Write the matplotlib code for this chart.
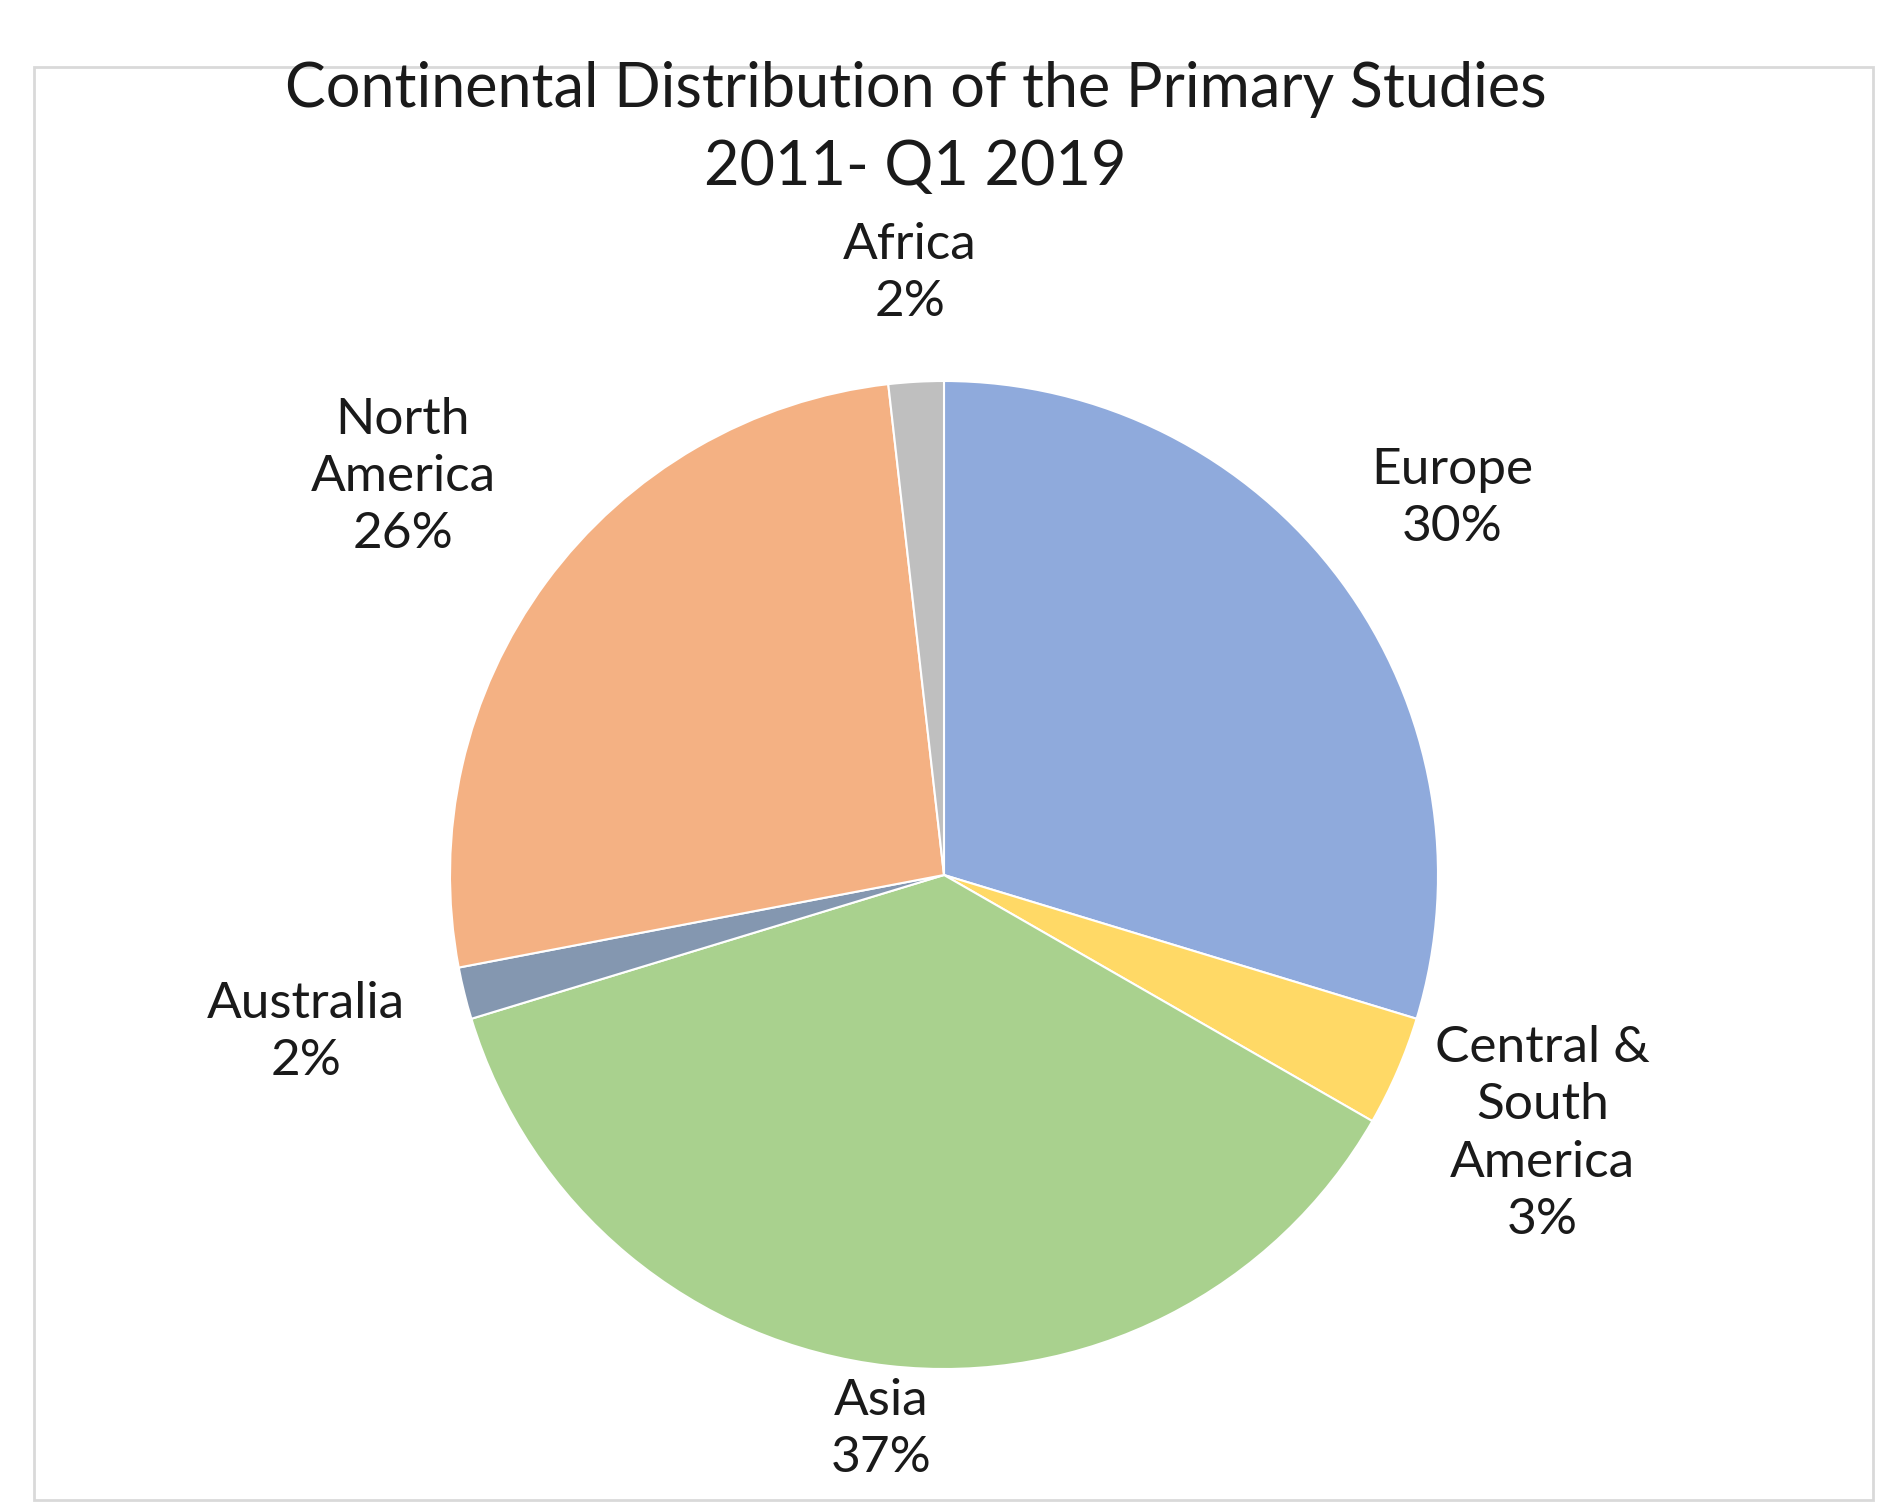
import numpy as np
import matplotlib.pyplot as plt
from matplotlib.patches import Rectangle

plt.rcParams['font.family'] = ['Lato', 'DejaVu Sans']

# data
regions = ['Europe', 'Central &\nSouth\nAmerica', 'Asia', 'Australia', 'North\nAmerica', 'Africa']
shares = [29.7, 3.6, 37.0, 1.7, 26.2, 1.8]
pct_labels = ['30%', '3%', '37%', '2%', '26%', '2%']
colors = ['#8FAADC', '#FFD966', '#A9D18E', '#8497B0', '#F4B183', '#BFBFBF']
label_dist = [1.28, 1.32, 1.13, 1.33, 1.36, 1.22]

W, H = 1891, 1507
fig = plt.figure(figsize=(W / 100, H / 100), dpi=100)
ax = fig.add_axes([0, 0, 1, 1])

cx, cy, r = 944, 632, 494
wedges, _ = ax.pie(shares, colors=colors, startangle=90, counterclock=False,
                   center=(cx, cy), radius=r, frame=True,
                   wedgeprops=dict(edgecolor='white', linewidth=1.5))
ax.set_xlim(0, W)
ax.set_ylim(0, H)
ax.set_aspect('equal')
ax.axis('off')

# light frame around the chart area
ax.add_patch(Rectangle((34, 7), 1839, 1433, fill=False, edgecolor='#D9D9D9', lw=2))

for w, name, pct, d in zip(wedges, regions, pct_labels, label_dist):
    ang = np.deg2rad((w.theta1 + w.theta2) / 2)
    x = cx + d * r * np.cos(ang)
    y = cy + d * r * np.sin(ang)
    ax.text(x, y, name + '\n' + pct, ha='center', va='center', fontsize=37,
            linespacing=1.3, color='#1a1a1a')

ax.text(W / 2 - 30, 1418, 'Continental Distribution of the Primary Studies',
        ha='center', va='center', fontsize=44, color='#1a1a1a')
ax.text(W / 2 - 30, 1340, '2011- Q1 2019', ha='center', va='center',
        fontsize=44, color='#1a1a1a')

fig.savefig('out.png', dpi=100)
